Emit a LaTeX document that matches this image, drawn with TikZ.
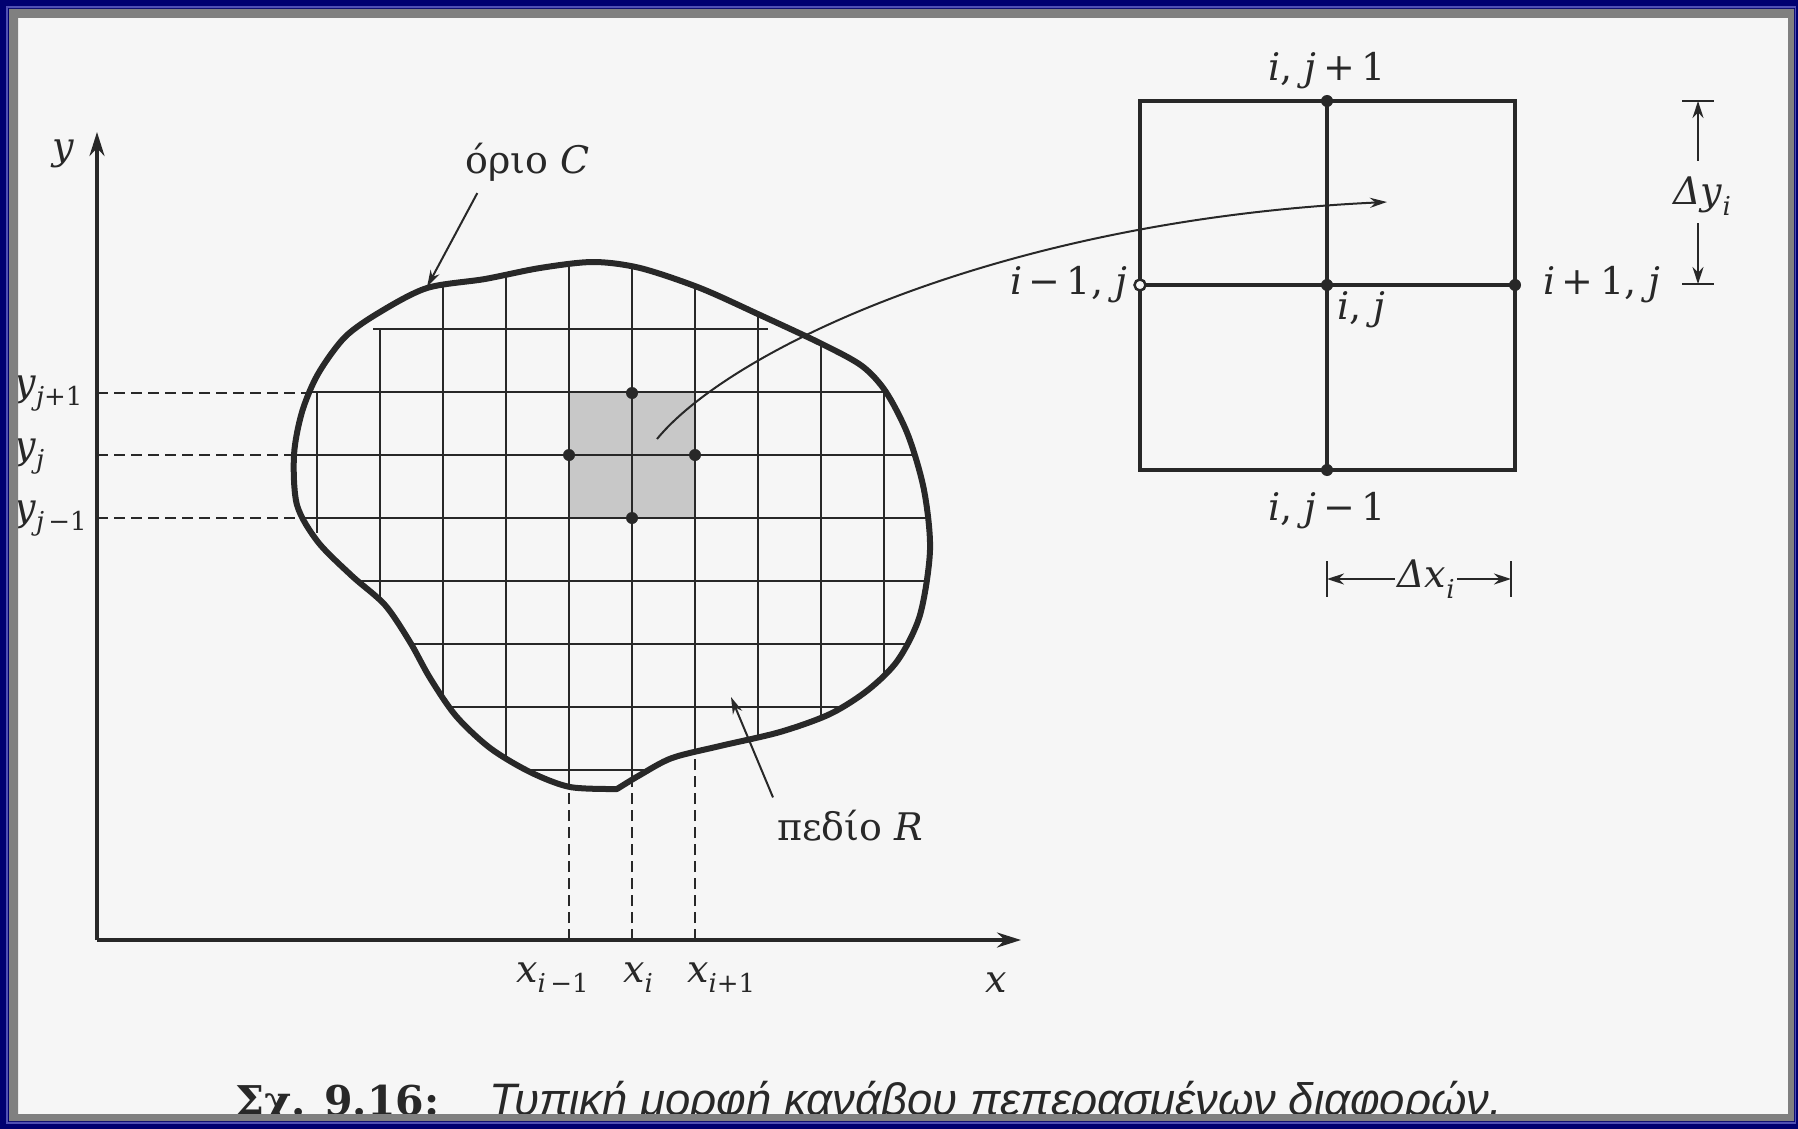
\documentclass[tikz,border=0pt]{standalone}
\usepackage{fontspec}
\setmainfont{DejaVu Serif}
\newfontfamily\capsans{Liberation Sans}
\usepackage{tikz}
\usetikzlibrary{positioning,arrows.meta}
\definecolor{frnavy}{RGB}{0,0,112}
\definecolor{frblue}{RGB}{80,80,180}
\definecolor{frgrey}{RGB}{128,128,128}
\definecolor{pgpaper}{RGB}{246,246,246}
\definecolor{ink}{RGB}{40,40,40}
\definecolor{cellgrey}{RGB}{200,200,200}
\newcommand{\lblsize}{\fontsize{38}{44}\selectfont}
\newcommand{\subtx}[1]{\raisebox{-0.28em}{\fontsize{26}{30}\selectfont #1}}
\tikzset{
  bnd/.style={draw=ink, line width=6pt, line join=round},
  gridln/.style={draw=ink, line width=2.8pt},
  axline/.style={draw=ink, line width=3.3pt, -{Stealth[length=24pt,width=15pt]}},
  guide/.style={draw=ink, line width=2.2pt, dash pattern=on 11pt off 6pt},
  cellbox/.style={draw=ink, line width=3.5pt},
  fdot/.style={circle, fill=ink, inner sep=0pt, minimum size=12pt},
  hdot/.style={circle, draw=ink, fill=pgpaper, line width=2.5pt, inner sep=0pt, minimum size=11pt},
  lbl/.style={font=\lblsize, text=ink, inner sep=2pt},
  lead/.style={draw=ink, line width=2pt, -{Stealth[length=17pt,width=10pt]}},
  dimarr/.style={draw=ink, line width=2pt, -{Stealth[length=17pt,width=11pt]}},
  dimtick/.style={draw=ink, line width=2pt},
}
\begin{document}
\begin{tikzpicture}[x=1pt, y=-1pt, node distance=6pt]
\useasboundingbox (0,0) rectangle (1798,1129);
\fill[pgpaper] (0,0) rectangle (1798,1129);
\def\bpath{plot[smooth, tension=0.5] coordinates {
  (617,789) (570,787) (530,772) (490,748) (456,716) (430,678) (410,642)
  (385,605) (352,576) (318,542) (297,505) (294,455) (302,412) (318,374)
  (345,337) (380,312) (427,288) (485,279) (540,268) (593,262) (640,268)
  (700,288) (760,315) (822,344) (862,366) (886,392) (908,435) (924,490)
  (930,550) (920,615) (898,660) (868,690) (830,714) (780,732) (720,746)
  (672,758) (640,775) (617,789)} -- cycle}
\begin{scope}
  \clip \bpath;
  \fill[cellgrey] (569,393) rectangle (695,518);
  \foreach \x in {443,506,...,884} \draw[gridln] (\x,240) -- (\x,800);
  \draw[gridln] (380,329) -- (380,800);
  \draw[gridln] (317,392) -- (317,533);
  \foreach \y in {392,455,...,770} \draw[gridln] (280,\y) -- (940,\y);
  \draw[gridln] (373,329) -- (768,329);
\end{scope}
\foreach \yy/\xe in {393/312,455/296,518/300} \draw[guide] (97,\yy) -- (\xe,\yy);
\foreach \xx/\ye in {569/786,632/781,695/752} \draw[guide] (\xx,940) -- (\xx,\ye);
\draw[bnd] \bpath;

\coordinate (O) at (97,940);
\coordinate (ytip) at (97,132);
\coordinate (xtip) at (1021,940);
\draw[axline] (O) -- (ytip);
\draw[axline] (O) -- (xtip);

\node[fdot] (gn) at (632,393) {};
\node[fdot] (gw) at (569,455) {};
\node[fdot] (ge) at (695,455) {};
\node[fdot] (gs) at (632,518) {};

\node[lbl, anchor=base west] (ylab) at (50,160) {\textit{y}};
\node[lbl, anchor=base west] (xlab) at (983,992) {\textit{x}};
\node[lbl, anchor=base west] (yjp) at (12,395) {\textit{y}\subtx{\textit{j}+1}};
\node[lbl, anchor=base west] (yj) at (12,458) {\textit{y}\subtx{\textit{j}}};
\node[lbl, anchor=base west] (yjm) at (12,520) {\textit{y}\subtx{\textit{j}\,−1}};
\node[lbl, anchor=base west] (xim) at (514,982) {\textit{x}\subtx{\textit{i}\,−1}};
\node[lbl, anchor=base west] (xi) at (621,982) {\textit{x}\subtx{\textit{i}}};
\node[lbl, anchor=base west] (xip) at (685,982) {\textit{x}\subtx{\textit{i}+1}};

\node[lbl, anchor=base west] (orio) at (463,173) {όριο \textit{C}};
\coordinate (orioend) at (427,287);
\draw[lead] ([xshift=-50pt,yshift=-10pt]orio.south) -- (orioend);
\node[lbl, anchor=base west] (pedio) at (775,840) {πεδίο \textit{R}};
\coordinate (pedioend) at (731,697);
\draw[lead] ([xshift=-2pt,yshift=10pt]pedio.north west) -- (pedioend);

\draw[cellbox] (1140,101) rectangle (1515,470);
\draw[cellbox] (1327,101) -- (1327,470);
\draw[cellbox] (1140,285) -- (1515,285);
\node[fdot] (n) at (1327,101) {};
\node[hdot] (w) at (1140,285) {};
\node[fdot] (c) at (1327,285) {};
\node[fdot] (e) at (1515,285) {};
\node[fdot] (s) at (1327,470) {};
\node[lbl, above=4pt of n] (ln) {\textit{i}, \textit{j}\,+\,1};
\node[lbl, left=4pt of w] (lw) {\textit{i}\,−\,1, \textit{j}};
\node[lbl, right=20pt of e] (le) {\textit{i}\,+\,1, \textit{j}};
\node[lbl, below right=0pt and 4pt of c] (lc) {\textit{i}, \textit{j}};
\node[lbl, below=14pt of s] (ls) {\textit{i}, \textit{j}\,−\,1};

\coordinate (dyt) at (1698,101);
\coordinate (dyb) at (1698,284);
\draw[dimtick] (1682,101) -- (1714,101);
\draw[dimtick] (1682,284) -- (1714,284);
\node[lbl] (dy) at (1702,196) {\textit{Δy}\subtx{\textit{i}}};
\draw[dimarr, shorten <=14pt] (dy.north -| dyt) -- (dyt);
\draw[dimarr, shorten <=6pt] (dy.south -| dyb) -- (dyb);

\coordinate (dxl) at (1327,579);
\coordinate (dxr) at (1511,579);
\draw[dimtick] (1327,561) -- (1327,597);
\draw[dimtick] (1511,561) -- (1511,597);
\node[lbl] (dx) at (1426,579) {\textit{Δx}\subtx{\textit{i}}};
\draw[dimarr] (dx.west) -- (dxl);
\draw[dimarr] (dx.east) -- (dxr);

\coordinate (cellmid) at (657,439);
\coordinate (zoomtip) at (1387,202);
\draw[lead] (cellmid) .. controls (730,350) and (1000,220) .. (zoomtip);

\node[anchor=base west, inner sep=0pt, text=ink] (capnum) at (235,1115)
  {\fontsize{41}{48}\selectfont\bfseries Σχ. 9.16:};
\node[anchor=base west, inner sep=0pt, text=ink] (captxt) at ([xshift=50pt]capnum.base east)
  {\capsans\itshape\fontsize{45.5}{52}\selectfont Τυπική μορφή κανάβου πεπερασμένων διαφορών.};

\fill[frnavy, even odd rule] (0,0) rectangle (1798,1129) (9,9) rectangle (1794,1121);
\fill[frgrey, even odd rule] (9,9) rectangle (1794,1121) (18,18) rectangle (1788,1114);
\draw[frblue, line width=1.2pt] (7,7) rectangle (1795.5,1123);
\end{tikzpicture}
\end{document}
